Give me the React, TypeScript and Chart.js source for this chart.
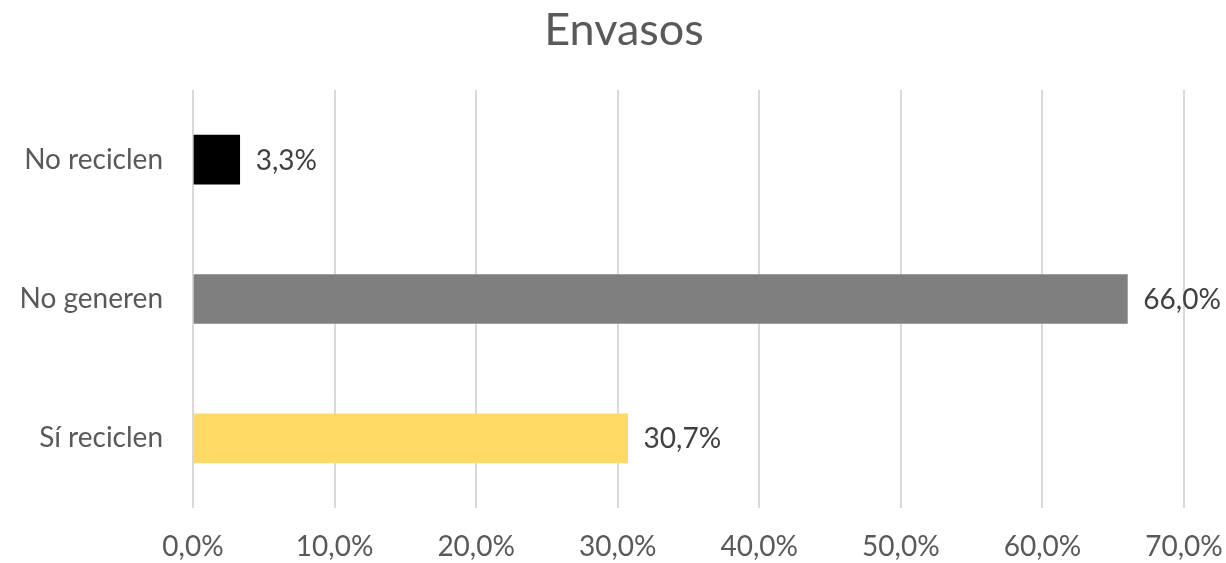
import React, { useEffect, useRef } from "react";
import { Chart, registerables } from "chart.js";

Chart.register(...registerables);

const title = "Envasos";
const categories = ["No reciclen", "No generen", "Sí reciclen"];
const values = [3.3, 66.0, 30.7];
const barColors = ["#000000", "#7F7F7F", "#FFD966"];
const xTicksMax = 70;
const xTicksStep = 10;

const FONT = "Lato, 'Open Sans', sans-serif";

const fmt = (v: number) => v.toFixed(1).replace(".", ",") + "%";

const overlay = {
  id: "overlay",
  afterDatasetsDraw(chart: any) {
    const ctx = chart.ctx;
    const meta = chart.getDatasetMeta(0);
    ctx.save();
    ctx.font = `28px ${FONT}`;
    ctx.fillStyle = "#404040";
    ctx.textAlign = "left";
    ctx.textBaseline = "middle";
    meta.data.forEach((el: any, i: number) => {
      ctx.fillText(fmt(values[i]), el.x + 16, el.y + 1);
    });
    ctx.font = `45px ${FONT}`;
    ctx.fillStyle = "#595959";
    ctx.textAlign = "center";
    ctx.fillText(title, 624, 30);
    ctx.restore();
  },
};

export default function App() {
  const ref = useRef<HTMLCanvasElement>(null);
  useEffect(() => {
    if (!ref.current) return;
    const chart = new Chart(ref.current, {
      type: "bar",
      data: {
        labels: categories,
        datasets: [
          {
            data: values,
            backgroundColor: barColors,
            barThickness: 49,
          },
        ],
      },
      options: {
        indexAxis: "y",
        animation: false,
        responsive: false,
        maintainAspectRatio: false,
        layout: { padding: { top: 90, right: 42, left: 0, bottom: 0 } },
        plugins: {
          legend: { display: false },
          title: { display: false },
          tooltip: { enabled: false },
        },
        scales: {
          x: {
            min: 0,
            max: xTicksMax,
            ticks: {
              stepSize: xTicksStep,
              callback: (v: any) => fmt(Number(v)),
              font: { family: FONT, size: 28 },
              color: "#595959",
              padding: 22,
              maxRotation: 0,
            },
            grid: { color: "#D9D9D9", lineWidth: 2, drawTicks: false },
            border: { display: false },
            afterFit: (s: any) => {
              s.height = 55;
              s.paddingLeft = 0;
              s.paddingRight = 0;
            },
          },
          y: {
            ticks: {
              font: { family: FONT, size: 28 },
              color: "#595959",
              padding: 30,
            },
            grid: { display: false, drawTicks: false },
            border: { display: false },
            afterFit: (s: any) => {
              s.width = 193;
              s.paddingTop = 0;
              s.paddingBottom = 0;
            },
          },
        },
      },
      plugins: [overlay],
    });
    return () => chart.destroy();
  }, []);
  return (
    <div style={{ position: "fixed", left: 0, top: 0, width: 1226, height: 563, background: "#fff" }}>
      <canvas ref={ref} width={1226} height={563} />
    </div>
  );
}
